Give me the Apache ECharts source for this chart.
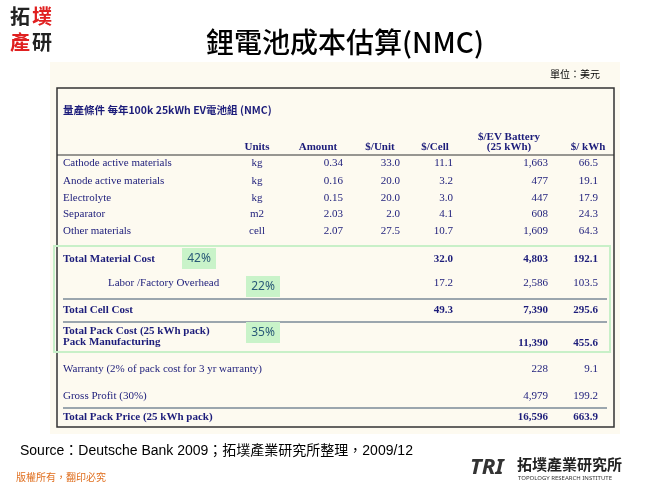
<!DOCTYPE html>
<html><head><meta charset="utf-8">
<script src="https://cdn.jsdelivr.net/npm/echarts@6/dist/echarts.min.js"></script>
<style>html,body{margin:0;padding:0;background:#fff}#c{width:650px;height:485px}</style>
</head><body><div id="c"></div>
<script>
// table data
var headers = ['Units', 'Amount', '$/Unit', '$/Cell', '$/EV Battery\n(25 kWh)', '$/ kWh'];
var rowLabels = ['Cathode active materials', 'Anode active materials', 'Electrolyte', 'Separator', 'Other materials',
  'Total Material Cost', 'Labor /Factory Overhead', 'Total Cell Cost', 'Total Pack Cost (25 kWh pack)\nPack Manufacturing',
  'Warranty (2% of pack cost for 3 yr warranty)', 'Gross Profit (30%)', 'Total Pack Price (25 kWh pack)'];
var units   = ['kg', 'kg', 'kg', 'm2', 'cell', '', '', '', '', '', '', ''];
var amounts = ['0.34', '0.16', '0.15', '2.03', '2.07', '', '', '', '', '', '', ''];
var perUnit = ['33.0', '20.0', '20.0', '2.0', '27.5', '', '', '', '', '', '', ''];
var perCell = ['11.1', '3.2', '3.0', '4.1', '10.7', '32.0', '17.2', '49.3', '', '', '', ''];
var perBattery = ['1,663', '477', '447', '608', '1,609', '4,803', '2,586', '7,390', '11,390', '228', '4,979', '16,596'];
var perKwh = ['66.5', '19.1', '17.9', '24.3', '64.3', '192.1', '103.5', '295.6', '455.6', '9.1', '199.2', '663.9'];
var boldRows = [5, 7, 8, 11];
var shares = ['42%', '22%', '35%'];

var rowY = [163, 181, 198, 214, 231, 259, 283, 310, 337, 369, 396, 417];
var colX = [257, 343, 400, 453, 548, 598];
var blue = '#1c1c7a';
var serif = 'Liberation Serif, serif';

var g = [];
g.push({type: 'rect', shape: {x: 50, y: 62, width: 570, height: 372}, style: {fill: '#fdfaf0'}});
g.push({type: 'rect', shape: {x: 57, y: 88, width: 557, height: 339}, style: {fill: 'none', stroke: '#333', lineWidth: 1.5}});
g.push({type: 'rect', shape: {x: 54, y: 246, width: 556, height: 106}, style: {fill: 'none', stroke: '#c8f0c8', lineWidth: 2}});
g.push({type: 'text', x: 345, y: 42, style: {text: '鋰電池成本估算(NMC)', font: '500 28px "Noto Sans CJK TC", serif', fill: '#000', align: 'center', verticalAlign: 'middle'}});
g.push({type: 'text', x: 600, y: 74, style: {text: '單位：美元', font: '10px "Noto Sans CJK TC"', fill: '#000', align: 'right', verticalAlign: 'middle'}});
g.push({type: 'text', x: 63, y: 110, style: {text: '量產條件 每年100k 25kWh EV電池組 (NMC)', font: 'bold 10.5px "Noto Sans CJK TC", serif', fill: blue, verticalAlign: 'middle'}});
// logo top-left
g.push({type: 'text', x: 10, y: 16, style: {text: '拓', font: 'bold 20px "Noto Sans CJK TC"', fill: '#222', verticalAlign: 'middle'}});
g.push({type: 'text', x: 32, y: 16, style: {text: '墣', font: 'bold 20px "Noto Sans CJK TC"', fill: '#e02020', verticalAlign: 'middle'}});
g.push({type: 'text', x: 10, y: 42, style: {text: '產', font: 'bold 20px "Noto Sans CJK TC"', fill: '#e02020', verticalAlign: 'middle'}});
g.push({type: 'text', x: 32, y: 42, style: {text: '研', font: 'bold 20px "Noto Sans CJK TC"', fill: '#222', verticalAlign: 'middle'}});
// header
var hX = [257, 318, 380, 435, 509, 588];
headers.forEach(function (h, i) {
  g.push({type: 'text', x: hX[i], y: i === 4 ? 142 : 147, style: {text: h, font: 'bold 11px ' + serif, fill: blue, align: 'center', verticalAlign: 'middle', lineHeight: 10}});
});
[155, 299, 322, 408].forEach(function (y) {
  var top = y === 155;
  g.push({type: 'line', shape: {x1: top ? 57 : 63, y1: y, x2: top ? 614 : 607, y2: y}, style: {stroke: top ? '#333' : '#7a8a99', lineWidth: top ? 1.2 : 1.5}});
});
rowLabels.forEach(function (lab, r) {
  var b = boldRows.indexOf(r) >= 0 ? 'bold ' : '';
  var f = b + '11px ' + serif;
  g.push({type: 'text', x: r === 6 ? 108 : 63, y: rowY[r], style: {text: lab, font: f, fill: blue, verticalAlign: 'middle', lineHeight: 11}});
  var vy = r === 8 ? 343 : rowY[r];
  var cols = [units[r], amounts[r], perUnit[r], perCell[r], perBattery[r], perKwh[r]];
  cols.forEach(function (v, c) {
    if (!v) return;
    g.push({type: 'text', x: colX[c], y: vy, style: {text: v, font: f, fill: blue, align: c === 0 ? 'center' : 'right', verticalAlign: 'middle'}});
  });
});
var boxes = [[182, 248], [246, 276], [246, 322]];
shares.forEach(function (s, i) {
  g.push({type: 'rect', shape: {x: boxes[i][0], y: boxes[i][1], width: 34, height: 21}, style: {fill: '#c9f3c9'}});
  g.push({type: 'text', x: boxes[i][0] + 17, y: boxes[i][1] + 10.5, style: {text: s, font: '12px "Noto Sans"', fill: '#2a5a78', align: 'center', verticalAlign: 'middle'}});
});
g.push({type: 'text', x: 20, y: 451, style: {text: 'Source：Deutsche Bank 2009；拓墣產業研究所整理，2009/12', font: '14px "Liberation Sans", "Noto Sans CJK TC"', fill: '#000', verticalAlign: 'middle'}});
g.push({type: 'text', x: 16, y: 477, style: {text: '版權所有，翻印必究', font: '10px "Noto Sans CJK TC"', fill: '#e07020', verticalAlign: 'middle'}});
g.push({type: 'text', x: 470, y: 468, style: {text: 'TRI', font: 'bold italic 22px "Noto Sans"', fill: '#333', verticalAlign: 'middle'}});
g.push({type: 'text', x: 517, y: 464, style: {text: '拓墣產業研究所', font: 'bold 15px "Noto Sans CJK TC"', fill: '#222', verticalAlign: 'middle'}});
g.push({type: 'text', x: 518, y: 478, style: {text: 'TOPOLOGY RESEARCH INSTITUTE', font: '6px "Noto Sans"', fill: '#333', verticalAlign: 'middle'}});

var chart = echarts.init(document.getElementById('c'));
chart.setOption({backgroundColor: '#fff', graphic: g});
</script></body></html>
